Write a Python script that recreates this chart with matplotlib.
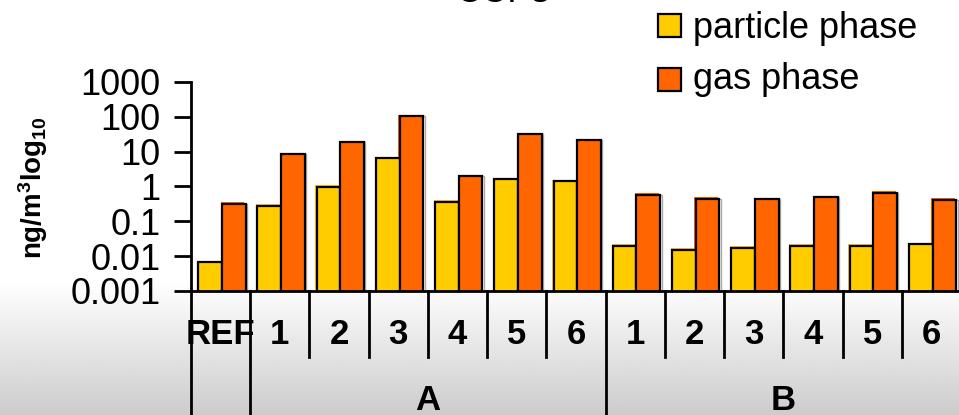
import numpy as np
import matplotlib
matplotlib.use('Agg')
import matplotlib.pyplot as plt
import matplotlib.transforms as mtransforms

plt.rcParams['font.family'] = ['Liberation Sans', 'DejaVu Sans']
plt.rcParams['mathtext.fontset'] = 'custom'
plt.rcParams['mathtext.rm'] = 'Liberation Sans'
plt.rcParams['mathtext.bf'] = 'Liberation Sans:bold'

# concentrations, ng/m3
labels = ['REF', '1', '2', '3', '4', '5', '6', '1', '2', '3', '4', '5', '6']
groups = ['A', 'B']
particle = [0.0074, 0.31, 1.07, 7.2, 0.40, 1.8, 1.58,
            0.022, 0.0166, 0.019, 0.022, 0.022, 0.0245]
gas = [0.35, 9.3, 20.5, 115, 2.2, 35, 23.6,
       0.63, 0.49, 0.48, 0.55, 0.72, 0.46]
yticks = [1000, 100, 10, 1, 0.1, 0.01, 0.001]
yticklabels = ['1000', '100', '10', '1', '0.1', '0.01', '0.001']

c_part = '#FFCC00'
c_gas = '#FF6600'

W, H = 959, 415
fig = plt.figure(figsize=(W / 100, H / 100), dpi=100)

# grey fade in the lower part of the figure
bg = fig.add_axes([0, 0, 1, (H - 283) / H], zorder=-10)
grad = np.linspace(0.80, 1.0, 256).reshape(-1, 1)
bg.imshow(grad, cmap='gray', vmin=0, vmax=1, aspect='auto', origin='lower',
          extent=[0, 1, 0, 1])
bg.axis('off')

ax = fig.add_axes([191 / W, 1 - 291 / H, 770 / W, (291 - 82) / H])
ax.set_facecolor('none')
x = np.arange(len(labels))
w = 0.4

# filled bars, then outlined copies shifted a little for the drop look
shift = ax.transData + mtransforms.ScaledTranslation(1.2 / 100, -1.5 / 100, fig.dpi_scale_trans)
shadow = ax.transData + mtransforms.ScaledTranslation(2.6 / 100, -1.5 / 100, fig.dpi_scale_trans)
for vals, col, off in [(particle, c_part, -w / 2), (gas, c_gas, w / 2)]:
    ax.bar(x + off, vals, w, color=col, edgecolor='none', zorder=2)
    sh = ax.bar(x + off, vals, w, facecolor='none', edgecolor='#aaaaaa',
                linewidth=1.0, zorder=1)
    for p in sh:
        p.set_transform(shadow)
    ob = ax.bar(x + off, vals, w, color=col, edgecolor='black',
                linewidth=1.6, zorder=3)
    for p in ob:
        p.set_transform(shift)

ax.set_yscale('log')
ax.set_ylim(0.001, 1000)
ax.set_xlim(-0.5, len(labels) - 0.5)
ax.set_yticks(yticks)
ax.set_yticklabels(yticklabels)
ax.minorticks_off()
ax.tick_params(axis='y', direction='out', length=12, width=2, labelsize=26, pad=10)
ax.tick_params(axis='x', length=0, labelbottom=False)
for s in ['top', 'right']:
    ax.spines[s].set_visible(False)
for s in ['left', 'bottom']:
    ax.spines[s].set_linewidth(2)
    ax.spines[s].set_zorder(5)

# category table below the axis
trans = mtransforms.blended_transform_factory(ax.transData, ax.transAxes)
ah = 291 - 82
short = -(357 - 291) / ah
long_ = -(H - 291 + 5) / ah
for i in range(len(labels) - 1):
    xs = i + 0.5
    y1 = long_ if i in (0, 6) else short
    ax.plot([xs, xs], [0, y1], color='black', lw=2, transform=trans, clip_on=False)
ax.plot([-0.5, -0.5], [0, long_], color='black', lw=2, transform=trans, clip_on=False)
ax.plot([12.5, 12.5], [0, long_], color='black', lw=2, transform=trans, clip_on=False)

for i, lab in enumerate(labels):
    ax.text(i, -(334 - 291) / ah, lab, transform=trans, ha='center', va='center',
            fontsize=25, fontweight='bold')
ax.text(3.5, -(410 - 291) / ah, groups[0], transform=trans, ha='center', va='baseline',
        fontsize=25, fontweight='bold')
ax.text(9.5, -(410 - 291) / ah, groups[1], transform=trans, ha='center', va='baseline',
        fontsize=25, fontweight='bold')

fig.text(33 / W, 1 - 188 / H, r'$\mathbf{ng/m^3log_{10}}$', rotation=90,
         ha='center', va='center', fontsize=20)
fig.text(502 / W, 1 - 2 / H, 'CCPs', ha='center', va='baseline', fontsize=26)

# legend
for j, (lab, col) in enumerate([('particle phase', c_part), ('gas phase', c_gas)]):
    y0 = 13 + j * 54
    sq = plt.Rectangle((658 / W, 1 - (y0 + 24) / H), 23 / W, 23 / H,
                       transform=fig.transFigure, facecolor=col, edgecolor='black',
                       linewidth=1.6)
    fig.patches.append(sq)
    fig.text(693 / W, 1 - (38 + j * 51) / H, lab, ha='left', va='baseline', fontsize=26)

fig.savefig('out.png', dpi=100)
